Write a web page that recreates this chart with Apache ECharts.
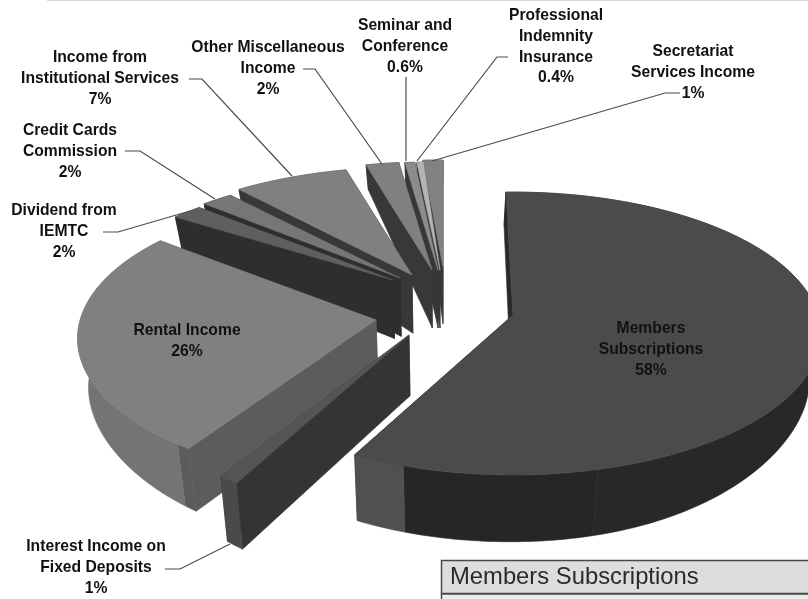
<!DOCTYPE html>
<html><head><meta charset="utf-8">
<style>html,body{margin:0;padding:0;background:#fff}#c{width:808px;height:599px}</style>
<script src="https://cdn.jsdelivr.net/npm/echarts@6/dist/echarts.min.js"></script>
</head><body><div id="c"></div>
<script>
// ---- data (clockwise from 12 o'clock) ----
const categories = ['Members Subscriptions','Interest Income on Fixed Deposits','Rental Income','Dividend from IEMTC','Credit Cards Commission','Income from Institutional Services','Other Miscellaneous Income','Seminar and Conference','Professional Indemnity Insurance','Secretariat Services Income'];
const shares = [58,1,26,2,2,7,2,0.6,0.4,1];
const shareLabels = ['58%','1%','26%','2%','2%','7%','2%','0.6%','0.4%','1%'];

// ---- exploded 3-D look (styling, not data) ----
const CENTER = [430,300];
const explodeX = [83,-21,-54,-37,-30,-18,2,8,10,13];
const explodeY = [15,35,20,-20,-22,-25,-30,-30,-30,-33];
const spin     = [-1.5,4,2,0,0,0,0,0,0,0];
const scaleX   = [1,.93,.97,.95,.96,.98,.98,.98,.98,1.18];
const scaleY   = [1,1.13,1,.83,.85,.88,.88,.88,.88,.87];
const paintZ   = [10,9,8,6,5,4,3,2,2,1];
const topFill  = ['#4b4b4b','#555555','#808080','#5f5f5f','#767676','#808080','#808080','#8c8c8c','#b4b4b4','#828282'];
const cutFill  = ['#2a2a2a','#343434','#5c5c5c','#2e2e2e','#2e2e2e','#383838','#383838','#383838','#383838','#383838'];
const rimBands = [[[.802,'#282828'],[.957,'#262626'],[1,'#505050']],[[1,'#4a4a4a']],[[.027,'#5c5c5c'],[1,'#747474']],[[1,'#2e2e2e']],[[1,'#2e2e2e']],[[1,'#383838']],[[1,'#383838']],[[1,'#383838']],[[1,'#383838']],[[1,'#383838']]];
const A=305,B=139,K=.131,VX=442;

function rim(i,deg){
  const t=deg*Math.PI/180, s=1/(1+K*Math.cos(t));
  return [CENTER[0]+explodeX[i]+scaleX[i]*A*Math.sin(t)*s, CENTER[1]+explodeY[i]-scaleY[i]*B*Math.cos(t)*s];
}
function apex(i){return [CENTER[0]+explodeX[i],CENTER[1]+explodeY[i]];}
function drop(p){
  const y=p[1], d=Math.abs(p[0]-VX)/366;
  let h = y<270 ? 25+(y-165)*.31 : 58+(y-270)*.043;
  h*=1-.2*d*d*d*d;
  return [p[0]+(VX-p[0])*.03, y+Math.max(h,20)];
}
function poly(points,fill,z){return {type:'polygon',z2:z,shape:{points},style:{fill,stroke:fill,lineWidth:.6}};}

function renderSlice(params,api){
  const i=params.dataIndex, v=api.value(0);
  let before=0; for(let j=0;j<i;j++) before+=shares[j];
  const total=shares.reduce((a,b)=>a+b,0);
  const a0=before/total*360+spin[i], a1=a0+v/total*360;
  const n=Math.max(3,Math.ceil(a1-a0));
  const arc=(f0,f1)=>{const o=[];const m=Math.max(2,Math.ceil(n*(f1-f0)));for(let k=0;k<=m;k++){o.push(rim(i,a0+(a1-a0)*(f0+(f1-f0)*k/m)));}return o;};
  const z=paintZ[i]*10, c=apex(i), kids=[];
  const p0=rim(i,a0), p1=rim(i,a1);
  kids.push(poly([c,p0,drop(p0),drop(c)],cutFill[i],z));
  kids.push(poly([c,p1,drop(p1),drop(c)],cutFill[i],z));
  let f0=0;
  rimBands[i].forEach(b=>{const pts=arc(f0,b[0]);kids.push(poly(pts.concat(pts.map(drop).reverse()),b[1],z+1));f0=b[0];});
  kids.push(poly([c].concat(arc(0,1)),topFill[i],z+2));
  return {type:'group',children:kids};
}

// ---- labels ----
const labelLines = [
 ['Members','Subscriptions'],['Interest Income on','Fixed Deposits'],['Rental Income'],['Dividend from','IEMTC'],['Credit Cards','Commission'],['Income from','Institutional Services'],['Other Miscellaneous','Income'],['Seminar and','Conference'],['Professional','Indemnity','Insurance'],['Secretariat','Services Income']];
const labelAt = [[651,329],[96,547],[187,331],[64,211],[70,131],[100,58],[268,48],[405,26],[556,16],[693,52]];
const leaders = [null,[[165,569],[180,569],[230,544]],null,[[103,232],[118,232],[190,211]],[[125,151],[140,151],[215,199]],[[189,79],[202,79],[292,176]],[[303,69],[315,69],[382,164]],[[406,77],[406,161]],[[508,57],[497,57],[417,161]],[[680,93],[665,93],[432,161]]];
const graphics=[];
categories.forEach((name,i)=>{
  const lines=labelLines[i].concat(shareLabels[i]);
  lines.forEach((t,k)=>graphics.push({type:'text',z:50,x:labelAt[i][0],y:labelAt[i][1]+k*20.7,
    style:{text:t,x:0,y:0,align:'center',verticalAlign:'middle',font:'bold 15.7px "Liberation Sans", Arial, sans-serif',fill:'#111'}}));
  if(leaders[i]) graphics.push({type:'polyline',z:40,shape:{points:leaders[i]},style:{stroke:'#4a4a4a',lineWidth:1.2,fill:null}});
});
graphics.push({type:'rect',z:30,shape:{x:47,y:0,width:761,height:1},style:{fill:'#d8d8d8'}});
graphics.push({type:'rect',z:30,shape:{x:441.5,y:560.5,width:380,height:33},style:{fill:'#dcddde',stroke:'#4a4a4a',lineWidth:1.5}});
graphics.push({type:'rect',z:30,shape:{x:441.5,y:594,width:380,height:10},style:{fill:'#ececed',stroke:'#4a4a4a',lineWidth:1.5}});
graphics.push({type:'text',z:31,x:450,y:577,style:{text:categories[0],x:0,y:0,align:'left',verticalAlign:'middle',font:'23.8px "Liberation Sans", Arial, sans-serif',fill:'#2a2a2a'}});

const chart=echarts.init(document.getElementById('c'),null,{renderer:'canvas'});
chart.setOption({animation:false,backgroundColor:'#fff',
  series:[{type:'custom',coordinateSystem:'none',renderItem:renderSlice,
    data:shares.map((v,i)=>({name:categories[i],value:[v]})),silent:true}],
  graphic:graphics});
</script></body></html>
